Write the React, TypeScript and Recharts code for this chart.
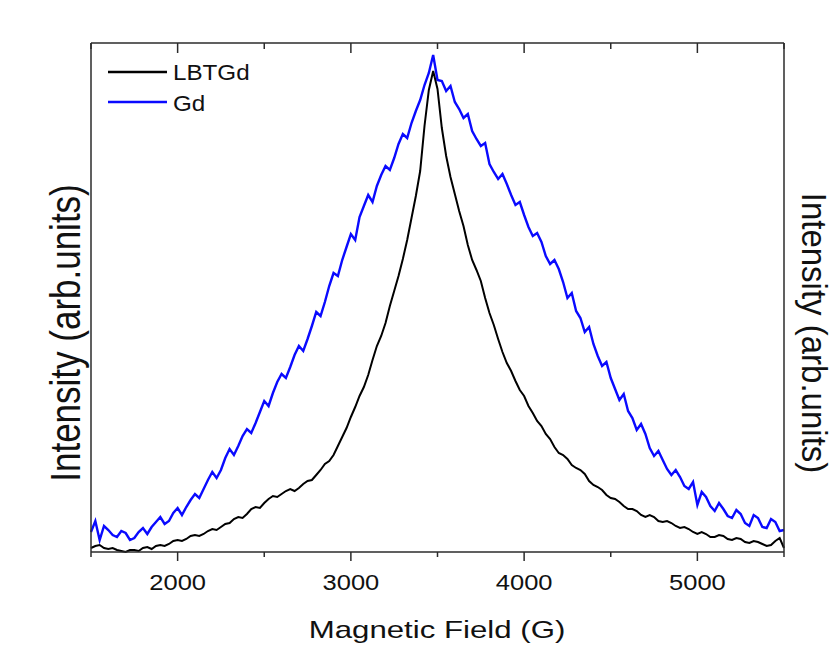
import { LineChart, Line, XAxis, YAxis, Legend } from 'recharts';

// Magnetic field (G)
const field = [
  1500, 1525, 1550, 1575, 1600, 1625, 1650, 1675, 1700, 1725,
  1750, 1775, 1800, 1825, 1850, 1875, 1900, 1925, 1950, 1975,
  2000, 2025, 2050, 2075, 2100, 2125, 2150, 2175, 2200, 2225,
  2250, 2275, 2300, 2325, 2350, 2375, 2400, 2425, 2450, 2475,
  2500, 2525, 2550, 2575, 2600, 2625, 2650, 2675, 2700, 2725,
  2750, 2775, 2800, 2825, 2850, 2875, 2900, 2925, 2950, 2975,
  3000, 3025, 3050, 3075, 3100, 3125, 3150, 3175, 3200, 3225,
  3250, 3275, 3300, 3325, 3350, 3375, 3400, 3425, 3450, 3475,
  3500, 3525, 3550, 3575, 3600, 3625, 3650, 3675, 3700, 3725,
  3750, 3775, 3800, 3825, 3850, 3875, 3900, 3925, 3950, 3975,
  4000, 4025, 4050, 4075, 4100, 4125, 4150, 4175, 4200, 4225,
  4250, 4275, 4300, 4325, 4350, 4375, 4400, 4425, 4450, 4475,
  4500, 4525, 4550, 4575, 4600, 4625, 4650, 4675, 4700, 4725,
  4750, 4775, 4800, 4825, 4850, 4875, 4900, 4925, 4950, 4975,
  5000, 5025, 5050, 5075, 5100, 5125, 5150, 5175, 5200, 5225,
  5250, 5275, 5300, 5325, 5350, 5375, 5400, 5425, 5450, 5475,
  5500,
];

// intensity, arb. units
const lbtgd = [
  4, 6, 7, 4, 3, 4, 2, 1, 0, 2,
  2, 1, 4, 5, 3, 6, 7, 6, 8, 11,
  12, 11, 13, 16, 17, 16, 18, 21, 23, 22,
  25, 28, 29, 33, 35, 34, 38, 43, 45, 44,
  49, 53, 56, 55, 58, 61, 63, 61, 64, 68,
  71, 72, 77, 82, 88, 91, 97, 106, 115, 124,
  135, 145, 156, 165, 177, 192, 206, 216, 229, 246,
  261, 276, 293, 312, 334, 356, 381, 426, 462, 481,
  463, 424, 396, 375, 358, 341, 326, 307, 292, 282,
  271, 254, 239, 227, 213, 200, 189, 181, 171, 162,
  156, 146, 139, 131, 126, 118, 113, 105, 99, 97,
  93, 87, 84, 82, 78, 71, 67, 65, 62, 57,
  54, 53, 50, 46, 43, 43, 41, 37, 35, 37,
  35, 31, 30, 31, 29, 26, 24, 25, 23, 20,
  18, 20, 18, 15, 15, 17, 16, 13, 12, 14,
  13, 10, 9, 11, 10, 8, 6, 7, 11, 14,
  4,
];

const gd = [
  20, 31, 12, 26, 22, 17, 15, 21, 19, 12,
  14, 20, 24, 18, 25, 30, 35, 28, 31, 39,
  44, 37, 45, 52, 58, 54, 63, 72, 80, 74,
  82, 94, 103, 97, 106, 116, 123, 119, 129, 140,
  151, 146, 159, 170, 178, 174, 185, 197, 206, 201,
  213, 226, 240, 236, 250, 266, 279, 276, 292, 305,
  318, 312, 335, 346, 357, 350, 366, 377, 386, 382,
  394, 408, 418, 414, 429, 441, 452, 467, 479, 497,
  472, 471, 461, 466, 450, 443, 434, 438, 421, 413,
  406, 409, 388, 380, 373, 378, 368, 357, 347, 350,
  337, 325, 316, 319, 310, 296, 288, 292, 283, 270,
  254, 259, 241, 234, 220, 225, 208, 196, 186, 190,
  174, 163, 152, 158, 141, 134, 122, 128, 118, 104,
  96, 101, 92, 83, 77, 82, 75, 66, 63, 70,
  47, 60, 55, 46, 41, 49, 43, 36, 34, 42,
  38, 29, 26, 37, 34, 25, 24, 33, 30, 21,
  22,
];

const xTicks = [1500, 2000, 2500, 3000, 3500, 4000, 4500, 5000, 5500];

const rows = field.map((f, i) => ({ field: f, lbtgd: lbtgd[i], gd: gd[i] }));

const FRAME = '#2b2b2b';
const BLUE = '#0a0aff';
const FONT = '"Liberation Sans", Arial, sans-serif';

const BottomTick = (props: any) => {
  const { x, y, payload } = props;
  const major = payload.value % 1000 === 0;
  return (
    <g>
      <line x1={x} y1={y} x2={x} y2={y + (major ? 9 : 5)} stroke={FRAME} strokeWidth={1.5} />
      {major && (
        <text
          transform={`translate(${x},${y + 38}) scale(1.16,1)`}
          textAnchor="middle"
          fontSize={22}
          fontFamily={FONT}
          fill="#111"
        >
          {payload.value}
        </text>
      )}
    </g>
  );
};

const TopTick = (props: any) => {
  const { x, y, payload } = props;
  const major = payload.value % 1000 === 0;
  return <line x1={x} y1={y} x2={x} y2={y + (major ? 10 : 6)} stroke={FRAME} strokeWidth={1.5} />;
};

const xTitle = () => (
  <text transform="translate(437,638) scale(1.3,1)" textAnchor="middle" fontSize={24} fontFamily={FONT} fill="#111">
    Magnetic Field (G)
  </text>
);

const leftTitle = () => (
  <text transform="translate(80,333) scale(1.2,1) rotate(-90)" textAnchor="middle" fontSize={35} fontFamily={FONT} fill="#111">
    Intensity (arb.units)
  </text>
);

const rightTitle = () => (
  <text transform="translate(802,333) scale(1.05,1) rotate(90)" textAnchor="middle" fontSize={33} fontFamily={FONT} fill="#111">
    Intensity (arb.units)
  </text>
);

const renderLegend = () => (
  <svg width={200} height={64}>
    <line x1={8} y1={17} x2={67} y2={17} stroke="#000" strokeWidth={2.5} />
    <text transform="translate(73,25) scale(1.1,1)" fontSize={22} fontFamily={FONT} fill="#111">LBTGd</text>
    <line x1={8} y1={47} x2={67} y2={47} stroke={BLUE} strokeWidth={2.5} />
    <text transform="translate(73,56) scale(1.1,1)" fontSize={22} fontFamily={FONT} fill="#111">Gd</text>
  </svg>
);

export default function App() {
  return (
    <div style={{ position: 'absolute', left: 0, top: 0, width: 834, height: 650, background: '#fff' }}>
      <LineChart width={834} height={650} data={rows} margin={{ top: 0, right: 0, bottom: 0, left: 0 }}>
        <XAxis
          xAxisId="bottom"
          dataKey="field"
          type="number"
          domain={[1500, 5500]}
          ticks={xTicks}
          interval={0}
          height={98}
          tickSize={0}
          tickMargin={0}
          tickLine={false}
          tick={<BottomTick />}
          axisLine={{ stroke: FRAME, strokeWidth: 1.5 }}
          label={xTitle}
        />
        <XAxis
          xAxisId="top"
          orientation="top"
          dataKey="field"
          type="number"
          domain={[1500, 5500]}
          ticks={xTicks}
          interval={0}
          height={43}
          tickSize={0}
          tickMargin={0}
          tickLine={false}
          tick={<TopTick />}
          axisLine={{ stroke: FRAME, strokeWidth: 1.5 }}
        />
        <YAxis
          yAxisId="left"
          type="number"
          domain={[0, 509]}
          width={91}
          tick={false}
          tickLine={false}
          axisLine={{ stroke: FRAME, strokeWidth: 1.5 }}
          label={leftTitle}
        />
        <YAxis
          yAxisId="right"
          orientation="right"
          type="number"
          domain={[0, 509]}
          width={50}
          tick={false}
          tickLine={false}
          axisLine={{ stroke: FRAME, strokeWidth: 1.5 }}
          label={rightTitle}
        />
        <Legend
          layout="horizontal"
          verticalAlign="middle"
          align="center"
          content={renderLegend}
          wrapperStyle={{ position: 'absolute', left: 100, top: 55, width: 200, height: 64 }}
        />
        <Line
          xAxisId="bottom"
          yAxisId="left"
          type="linear"
          dataKey="gd"
          name="Gd"
          stroke={BLUE}
          strokeWidth={2.4}
          dot={false}
          isAnimationActive={false}
        />
        <Line
          xAxisId="bottom"
          yAxisId="left"
          type="linear"
          dataKey="lbtgd"
          name="LBTGd"
          stroke="#000"
          strokeWidth={2}
          dot={false}
          isAnimationActive={false}
        />
      </LineChart>
    </div>
  );
}
